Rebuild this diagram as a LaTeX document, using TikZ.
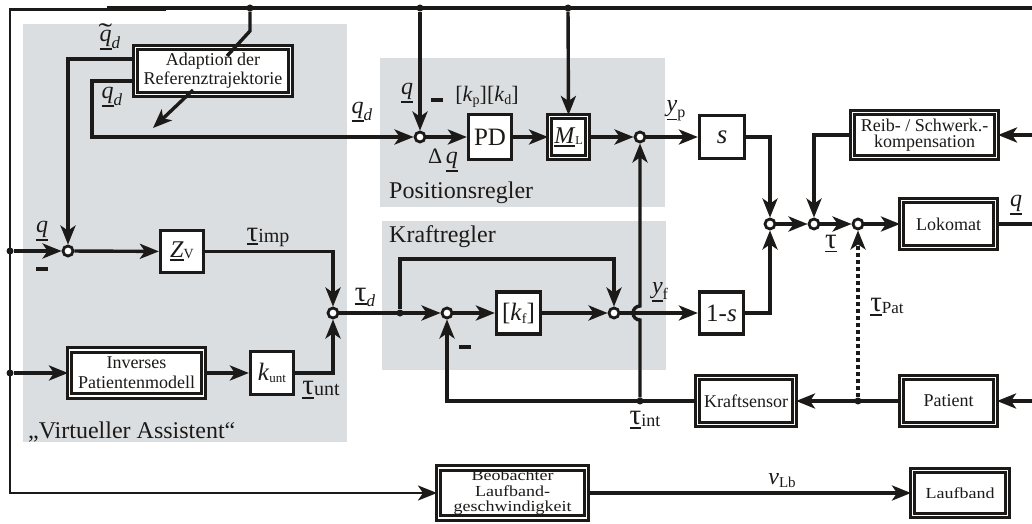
\documentclass[tikz,border=0pt]{standalone}
\usepackage{fontspec}
\setmainfont{Liberation Serif}
\usepackage{graphicx}
\usetikzlibrary{arrows.meta}
\definecolor{bggray}{RGB}{219,222,224}
\definecolor{ink}{RGB}{28,26,24}
\newcommand{\fs}[1]{\fontsize{#1}{#1}\selectfont}
\newcommand{\ulin}[1]{\vtop{\hbox{#1}\kern1.8pt\hrule height1.6pt}}
\newcommand{\lsub}[3]{\raisebox{-#2}{\fs{#3}#1}}
\newcommand{\vq}{\ulin{\fs{24}\textit{q}}}
\newcommand{\vtau}{\ulin{\fs{29}τ}}
\tikzset{
  conn/.style={line width=3.4pt, draw=ink},
  arr/.style={conn, -{Stealth[length=19pt,width=15pt,inset=5pt]}},
  sbox/.style={draw=ink, line width=3.2pt, fill=white, inner sep=0pt, align=center, text=ink},
  dbox/.style={draw=ink, line width=3pt, double=white, double distance=1.8pt, fill=white,
    inner sep=0pt, align=center, text=ink, font=\fontsize{18}{19}\selectfont},
  junc/.style={circle, draw=ink, line width=2.8pt, fill=white, minimum size=10pt, inner sep=0pt},
  dot/.style={circle, fill=ink, minimum size=7pt, inner sep=0pt},
  lab/.style={inner sep=0pt, text=ink},
  minusbar/.style={line width=3.2pt, draw=ink},
}
\begin{document}
\begin{tikzpicture}[x=1pt,y=-1pt]
\useasboundingbox (0,0) rectangle (1032,524);
\fill[white] (0,0) rectangle (1032,524);
% regions
\fill[bggray] (23,24) rectangle (347,442);
\fill[bggray] (380,58) rectangle (665,207);
\fill[bggray] (382,221) rectangle (666,370);
\node[lab, anchor=west, font=\fs{24}] (tva) at (28,432) {„Virtueller Assistent“};
\node[lab, anchor=west, font=\fs{24}] (tpr) at (389,193) {Positionsregler};
\node[lab, anchor=west, font=\fs{24}] (tkr) at (389,237) {Kraftregler};

% blocks
\node[dbox, minimum width=155pt, minimum height=47pt] (adapt) at (213,71) {Adaption der\\Referenztrajektorie};
\node[dbox, minimum width=38pt, minimum height=41pt] (ml) at (568.5,137) {\ulin{\fs{24}\textit{M}}\lsub{L}{1pt}{12}};
\node[sbox, minimum width=43pt, minimum height=45pt, font=\fs{25}] (pd) at (490,137) {PD};
\node[sbox, minimum width=45pt, minimum height=43pt, font=\fs{27}] (sb) at (722,137) {\textit{s}};
\node[sbox, minimum width=44pt, minimum height=42pt, font=\fs{25}] (oms) at (721.5,313) {1-\textit{s}};
\node[sbox, minimum width=43pt, minimum height=42pt] (zv) at (182,251.5) {\ulin{\fs{24}\textit{Z}}\lsub{V}{1pt}{14}};
\node[sbox, minimum width=44pt, minimum height=42pt, font=\fs{25}] (kf) at (518.5,313) {[\textit{k}\lsub{f}{3pt}{14}]};
\node[sbox, minimum width=43pt, minimum height=43pt, font=\fs{25}] (kunt) at (272,373) {\textit{k}\lsub{unt}{2pt}{13}};
\node[dbox, minimum width=144pt, minimum height=45pt, font=\fontsize{18}{16}\selectfont] (reib) at (924.5,135) {Reib- / Schwerk.-\\kompensation};
\node[dbox, minimum width=94pt, minimum height=47pt] (loko) at (948.5,224) {Lokomat};
\node[dbox, minimum width=97pt, minimum height=47pt] (ksens) at (746,401) {Kraftsensor};
\node[dbox, minimum width=94pt, minimum height=47pt] (pat) at (948.5,401) {Patient};
\node[dbox, minimum width=134pt, minimum height=46pt, font=\fontsize{18}{20}\selectfont] (inv) at (136.5,373) {Inverses\\Patientenmodell};
\node[dbox, minimum width=148pt, minimum height=50pt, font=\fs{18}] (beob) at (512.5,493) {\scalebox{1}[0.85]{\begin{tabular}{@{}c@{}}Beobachter\\Laufband-\\geschwindigkeit\end{tabular}}};
\node[dbox, minimum width=95pt, minimum height=45pt, font=\fs{18}] (lauf) at (960,493) {\scalebox{1}[0.85]{Laufband}};

% junctions
\node[junc] (jq) at (68,251) {};
\node[junc] (jtau) at (333,313) {};
\node[junc] (jpos) at (420,137) {};
\node[junc] (jml) at (640,137) {};
\node[junc] (jf1) at (447,313) {};
\node[junc] (jf2) at (614,313) {};
\node[junc] (js1) at (770,224) {};
\node[junc] (js2) at (814,224) {};
\node[junc] (js3) at (858,224) {};

% coordinates
\coordinate (eTop) at (1032,8);
\coordinate (eReib) at (1032,135);
\coordinate (eLoko) at (1032,224);
\coordinate (ePat) at (1032,401);
\coordinate (cTL) at (10,9.5);
\coordinate (cBL) at (10,493);
\coordinate (aIn1) at (250,31);
\coordinate (aIn2) at (227,56);
\coordinate (aOut1) at (193,90);
\coordinate (aOut2) at (153,128);
\coordinate (cQd) at (92,137);
\coordinate (hopLow) at (640,320);
\coordinate (cByL) at (400,259);

% main feedback line
\draw[conn] (eTop) -- (107,8);
\draw[arr, line width=2.6pt] (166,9.5) -- (cTL) -- (cBL) -- (beob.west);
\node[dot] (dA) at (250,8) {};
\node[dot] (dB) at (420,8) {};
\node[dot] (dC) at (568,8) {};
\node[dot] (dL1) at (10,251) {};
\node[dot] (dL2) at (10,373) {};
\node[dot] (dF) at (400,313) {};
\node[dot] (dI) at (640,401) {};
\node[dot] (dP) at (858,401) {};

% adaption
\draw[conn] (dA) -- (aIn1) -- (aIn2);
\draw[arr] (aOut1) -- (aOut2);
\draw[arr] ([yshift=12pt]adapt.west) -| (jq.north);
\draw[arr] ([yshift=-10pt]adapt.west) -| (cQd) -- (jpos.west);

% position controller
\draw[arr] (dB) -- (jpos.north);
\draw[arr] (dC) -- (ml.north);
\draw[arr] (jpos) -- (pd);
\draw[arr] (pd) -- (ml);
\draw[arr] (ml) -- (jml);
\draw[arr] (jml) -- (sb);

% summation
\draw[arr] (sb.east) -| (js1.north);
\draw[arr] (oms.east) -| (js1.south);
\draw[arr] (reib.west) -| (js2.north);
\draw[arr] (js1) -- (js2);
\draw[arr] (js2) -- (js3);
\draw[arr] (js3) -- (loko);
\draw[conn] (loko.east) -- (eLoko);
\draw[arr] (eReib) -- (reib.east);
\draw[arr] (ePat) -- (pat.east);
\draw[arr] (pat.west) -- (ksens.east);
\draw[arr, dash pattern=on 4.5pt off 2.5pt] (dP) -- (js3.south);

% force controller
\draw[arr] (ksens.west) -| (jf1.south);
\draw[arr] (jtau) -- (jf1);
\draw[arr] (dF) -- (cByL) -| (jf2.north);
\draw[arr] (jf1) -- (kf);
\draw[arr] (kf) -- (jf2);
\draw[arr] (jf2) -- (oms);
\draw[arr] (dI) -- (hopLow) arc[start angle=270, end angle=90, radius=7pt] -- (jml.south);

% virtual assistant
\draw[arr] (dL1) -- (jq);
\draw[arr] (jq) -- (zv);
\draw[arr] (zv.east) -| (jtau.north);
\draw[arr] (dL2) -- (inv);
\draw[arr] (inv) -- (kunt);
\draw[arr] (kunt.east) -| (jtau.south);

% treadmill
\draw[arr] (beob) -- (lauf);

% minus bars
\draw[minusbar] (431,100) -- (443,100);
\draw[minusbar] (459,347) -- (471,347);
\draw[minusbar] (36,269) -- (48,269);

% labels
\node[lab] (lqt) at (110,40) {\rlap{\raisebox{-0.5pt}[0pt][0pt]{\hspace{-1pt}\fs{24}\scalebox{1.7}[1.1]{\char"02DC}}}\vq\lsub{\textit{d}}{7pt}{17}};
\node[lab] (lqd1) at (112,97) {\vq\lsub{\textit{d}}{7pt}{17}};
\node[lab] (lqd2) at (362,112) {\vq\lsub{\textit{d}}{7pt}{17}};
\node[lab] (lq1) at (407,93) {\vq};
\node[lab, font=\fs{22}] (lkpd) at (487,97) {[\textit{k}\lsub{p}{3pt}{14}][\textit{k}\lsub{d}{3pt}{14}]};
\node[lab, font=\fs{22}] (ldq) at (443,160) {Δ\,\vq};
\node[lab] (lyp) at (676,111) {\ulin{\fs{24}\textit{y}}\lsub{p}{6pt}{16}};
\node[lab] (lyf) at (660,292) {\ulin{\fs{24}\textit{y}}\lsub{f}{6pt}{16}};
\node[lab] (ltd) at (365,297) {\vtau\lsub{\textit{d}}{5pt}{17}};
\node[lab] (ltimp) at (268,237) {\vtau\lsub{imp}{1pt}{20}};
\node[lab] (ltunt) at (321,390) {\vtau\lsub{unt}{1pt}{20}};
\node[lab] (lt) at (831,244) {\vtau};
\node[lab] (ltpat) at (887,307) {\vtau\lsub{Pat}{2pt}{17}};
\node[lab] (ltint) at (645,420) {\vtau\lsub{int}{2pt}{18}};
\node[lab] (lqout) at (1016,205) {\vq};
\node[lab] (lqin) at (42,231) {\vq};
\node[lab] (lvlb) at (782,481) {\fs{24}\textit{v}\lsub{Lb}{3pt}{15}};
\end{tikzpicture}
\end{document}
